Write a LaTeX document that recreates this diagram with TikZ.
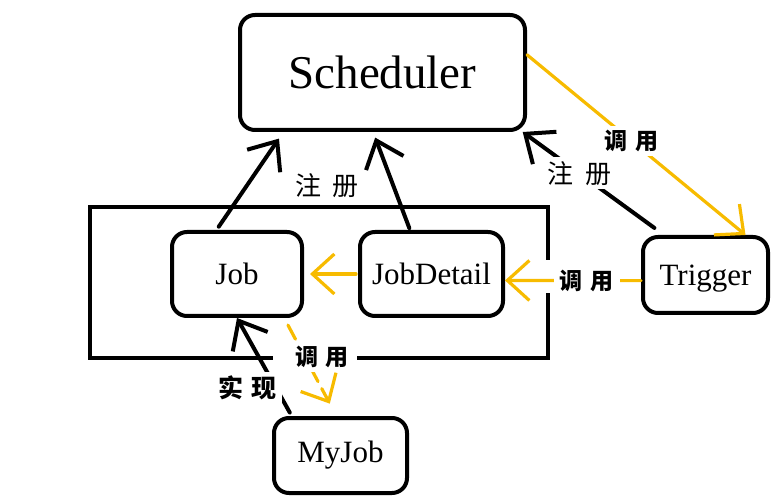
\documentclass[tikz,border=0pt]{standalone}
\usepackage{fontspec}
\setmainfont{Liberation Serif}
\newfontfamily\cjk{Noto Sans CJK SC}
\usetikzlibrary{arrows.meta,calc}
\definecolor{amber}{HTML}{F7BB00}
\definecolor{ink}{HTML}{000000}
\tikzset{
    every picture/.style={line cap=round,line join=round},
    classbox/.style={draw=ink,fill=white,line width=2pt,rounded corners=7.5pt,
      minimum width=65pt,minimum height=42pt,inner sep=2pt,
      font=\fontsize{15.5}{18}\selectfont,align=center},
    regarrow/.style={-{Straight Barb[length=12pt,width=20pt]},draw=ink,
      line width=2pt},
    callarrow/.style={-{Straight Barb[length=11pt,width=20pt]},draw=amber,
      line width=1.6pt},
    edgelabel/.style={fill=white,inner xsep=3pt,inner ysep=2pt,text=ink,
      font=\cjk\bfseries\fontsize{11.5}{13}\selectfont},
    reglabel/.style={edgelabel,font=\cjk\fontsize{13}{15}\selectfont}
}

\begin{document}
\begin{tikzpicture}[x=0.5pt,y=-0.5pt]
    \useasboundingbox (0,0) rectangle (771,497);
    % frame round Job and JobDetail
    \draw[draw=ink,line width=2pt,line cap=butt,line join=miter]
      (548,260) -- (548,207) -- (90,207) -- (90,358) -- (273,358)
      (357,358) -- (548,358) -- (548,293);
    \node[classbox,minimum width=142.5pt,minimum height=57.5pt,
      font=\fontsize{23.5}{28}\selectfont] (sched) at (382.5,72.5) {Scheduler};
    \node[classbox] (job) at (237,274) {Job};
    \node[classbox,minimum width=71.5pt] (detail) at (431.5,274) {JobDetail};
    \node[classbox,minimum width=62.5pt,minimum height=38pt,text depth=-2pt] (trigger) at (705.5,275) {Trigger};
    \node[classbox,minimum width=66.5pt,minimum height=37.5pt] (myjob) at (340.5,455.5) {MyJob};
    \draw[regarrow,shorten <=2pt,shorten >=4pt] (job.115) -- (sched.211);
    \draw[regarrow,shorten <=1pt,shorten >=3pt] (detail.116) -- (sched.261);
    \draw[regarrow,shorten <=6pt] (trigger.136) -- node[reglabel,pos=0.6] {注\hspace{6pt}册} (sched.337);
    \draw[callarrow] (sched.7) -- node[edgelabel,pos=0.48] {调\hspace{4pt}用} (trigger.45);
    \draw[callarrow,shorten <=1pt,shorten >=3pt] (detail.west) -- (job.east);
    \draw[callarrow] (trigger.185) -- node[edgelabel,pos=0.4] {调\hspace{4pt}用} (detail.355);
    \draw[regarrow,shorten <=2pt] (myjob.141) -- (job.south);
    \draw[callarrow,dash pattern=on 8pt off 4pt,shorten <=4pt,shorten >=7pt] (job.317) -- (myjob.96);
    \node[reglabel] (reg) at (327,186) {注\hspace{6pt}册};
    \node[edgelabel,font=\cjk\bfseries\fontsize{12.5}{14}\selectfont] (impl) at (247,388) {实\hspace{4pt}现};
    \node[edgelabel] (call) at (322,357) {调\hspace{4pt}用};
\end{tikzpicture}
\end{document}
